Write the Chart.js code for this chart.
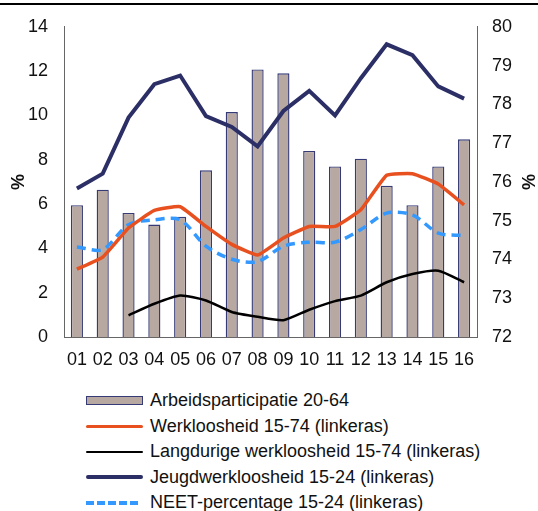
<!DOCTYPE html>
<html>
<head>
<meta charset="utf-8">
<script src="https://cdn.jsdelivr.net/npm/chart.js@4"></script>
<style>
  body { margin: 0; background: #fff; font-family: 'Liberation Sans', Arial, sans-serif; }
  #wrap { width: 538px; height: 511px; position: relative; }
  #topline { position: absolute; left: 0; top: 3px; width: 538px; height: 2px; background: #000; }
  #box { position: absolute; left: 0; top: 0; width: 538px; height: 378px; }
  #legend { position: absolute; left: 86px; top: 388px; }
  .item { height: 25.5px; display: flex; align-items: center; font-size: 18px; color: #111; }
  .sym { width: 57px; margin-right: 7px; }
</style>
</head>
<body>
<div id="wrap">
  <div id="topline"></div>
  <div id="box"><canvas id="c"></canvas></div>
  <div id="legend"></div>
</div>
<script>
const years = ['01','02','03','04','05','06','07','08','09','10','11','12','13','14','15','16']

// right axis
const arbeidsparticipatie = [75.4, 75.8, 75.2, 74.9, 75.1, 76.3, 77.8, 78.9, 78.8, 76.8, 76.4, 76.6, 75.9, 75.4, 76.4, 77.1]
// left axis
const werkloosheid = [3.06, 3.61, 4.92, 5.71, 5.88, 4.99, 4.18, 3.70, 4.47, 4.99, 4.99, 5.74, 7.30, 7.37, 6.90, 5.96]
const langdurig = [null, null, 0.98, 1.50, 1.87, 1.65, 1.13, 0.91, 0.76, 1.23, 1.62, 1.87, 2.47, 2.84, 2.99, 2.47]
const jeugd = [6.70, 7.37, 9.90, 11.41, 11.80, 9.97, 9.48, 8.60, 10.20, 11.11, 10.00, 11.68, 13.21, 12.72, 11.31, 10.76]
const neet = [4.06, 3.95, 5.07, 5.29, 5.29, 4.10, 3.51, 3.40, 4.10, 4.28, 4.28, 4.85, 5.59, 5.51, 4.69, 4.58]

const font = { family: "'Liberation Sans', Arial, sans-serif", size: 18 }

const ctx = document.getElementById('c').getContext('2d')
const chart = new Chart(ctx, {
  data: {
    labels: years,
    datasets: [
      { type: 'line', label: 'Werkloosheid 15-74 (linkeras)', data: werkloosheid, yAxisID: 'y',
        borderColor: '#e8511f', borderWidth: 3.5, tension: 0.12, pointRadius: 0, order: 1 },
      { type: 'line', label: 'Langdurige werkloosheid 15-74 (linkeras)', data: langdurig, yAxisID: 'y',
        borderColor: '#000000', borderWidth: 2.5, tension: 0.2, pointRadius: 0, order: 1 },
      { type: 'line', label: 'Jeugdwerkloosheid 15-24 (linkeras)', data: jeugd, yAxisID: 'y',
        borderColor: '#2b2f66', borderWidth: 4, tension: 0, pointRadius: 0, order: 1 },
      { type: 'line', label: 'NEET-percentage 15-24 (linkeras)', data: neet, yAxisID: 'y',
        borderColor: '#3399ff', borderWidth: 3.5, borderDash: [9, 6], tension: 0.3, pointRadius: 0, order: 1 },
      { type: 'bar', label: 'Arbeidsparticipatie 20-64', data: arbeidsparticipatie, yAxisID: 'y1',
        backgroundColor: '#b7a8a1', borderColor: '#363b76', borderWidth: 1.4,
        barPercentage: 0.47, categoryPercentage: 1, order: 2 },
    ],
  },
  options: {
    responsive: true,
    maintainAspectRatio: false,
    animation: false,
    layout: { padding: { top: 23, right: 0, bottom: 0, left: 0 } },
    plugins: { legend: { display: false }, tooltip: { enabled: false } },
    scales: {
      x: {
        offset: true,
        grid: { display: false, drawTicks: false },
        border: { color: '#666', width: 1 },
        ticks: { font, color: '#111', padding: 12, maxRotation: 0 },
        afterFit: (s) => { s.height = 41 },
      },
      y: {
        position: 'left', min: 0, max: 14,
        grid: { display: false, drawTicks: false },
        border: { color: '#666', width: 1 },
        ticks: { stepSize: 2, font, color: '#111', padding: 16 },
        title: { display: true, text: '%', font: { ...font, weight: 'bold' }, color: '#111', padding: { top: 8, bottom: 0 } },
        afterFit: (s) => { s.width = 64 },
      },
      y1: {
        position: 'right', min: 72, max: 80,
        grid: { display: false, drawTicks: false },
        border: { color: '#666', width: 1 },
        ticks: { stepSize: 1, font, color: '#111', padding: 15 },
        title: { display: true, text: '%', font: { ...font, weight: 'bold' }, color: '#111', padding: { top: 0, bottom: 4 } },
        afterFit: (s) => { s.width = 61 },
      },
    },
  },
})

// legend in fixed order like the reference
const legendOrder = [4, 0, 1, 2, 3]
const legendEl = document.getElementById('legend')
legendOrder.forEach((i) => {
  const ds = chart.data.datasets[i]
  const row = document.createElement('div')
  row.className = 'item'
  const sym = document.createElement('span')
  sym.className = 'sym'
  if (ds.type === 'bar') {
    sym.style.height = '9px'
    sym.style.background = ds.backgroundColor
    sym.style.border = '1.5px solid ' + ds.borderColor
    sym.style.boxSizing = 'border-box'
  } else if (ds.borderDash) {
    sym.style.height = '0'
    sym.style.borderTop = '4px dashed ' + ds.borderColor
    sym.style.width = '52px'
    sym.style.marginRight = '12px'
  } else {
    sym.style.height = ds.borderWidth + 'px'
    sym.style.background = ds.borderColor
    sym.style.borderRadius = '2px'
  }
  const txt = document.createElement('span')
  txt.textContent = ds.label
  row.appendChild(sym)
  row.appendChild(txt)
  legendEl.appendChild(row)
})
</script>
</body>
</html>
